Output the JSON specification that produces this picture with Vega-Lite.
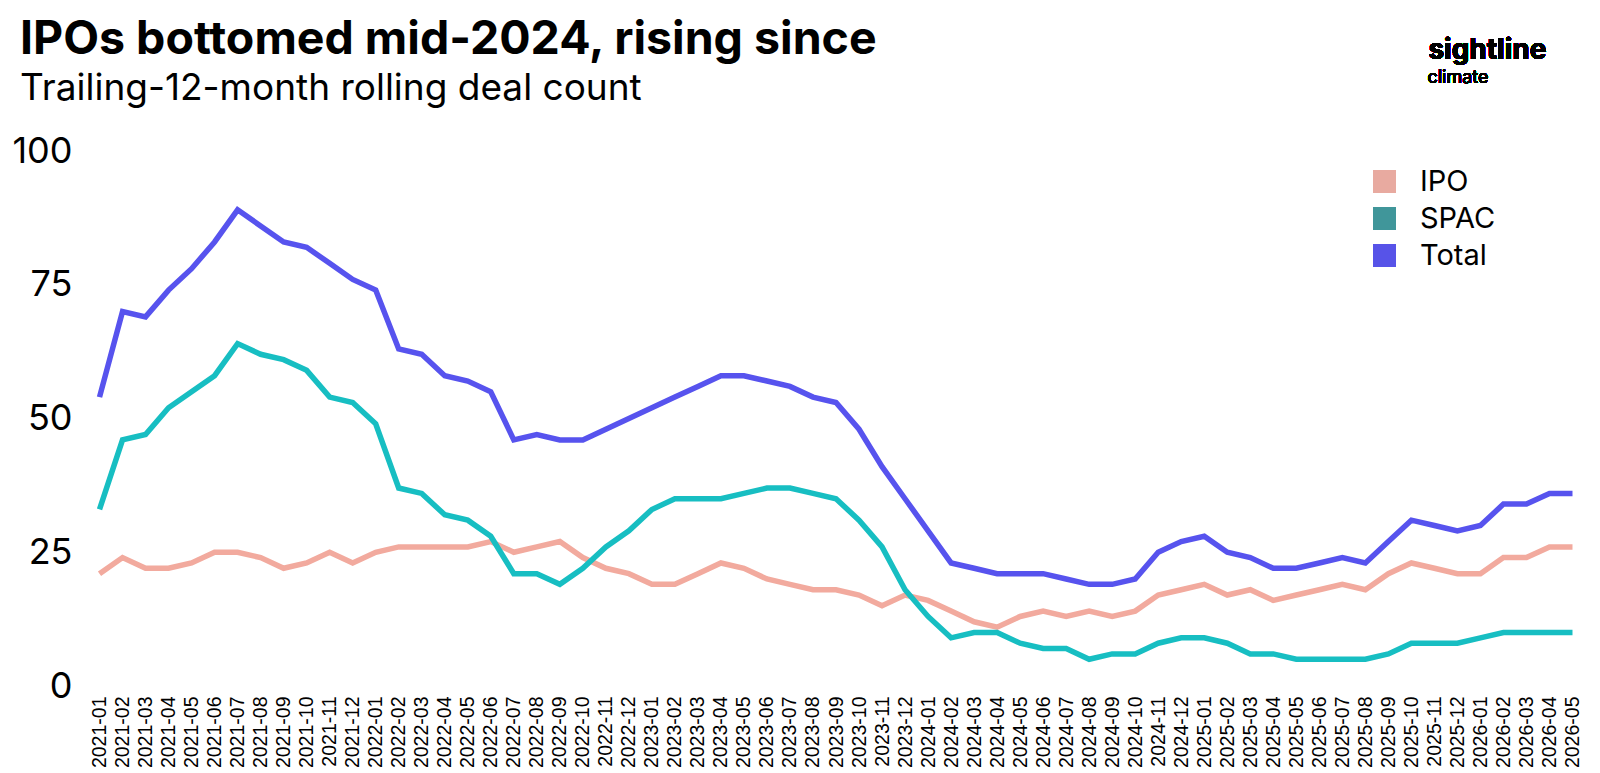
{
  "$schema": "https://vega.github.io/schema/vega-lite/v6.json",
  "autosize": {"type": "none"},
  "width": 1496,
  "height": 535,
  "padding": {"left": 88, "top": 151, "right": 16, "bottom": 87},
  "background": "#ffffff",
  "config": {"font": "Inter", "view": {"stroke": null}},
  "title": {
    "text": "IPOs bottomed mid-2024, rising since",
    "subtitle": "Trailing-12-month rolling deal count",
    "anchor": "start",
    "frame": "group",
    "dx": -68,
    "offset": -70,
    "font": "Inter",
    "fontSize": 46.5,
    "fontWeight": "bold",
    "color": "#000000",
    "subtitleFont": "Inter",
    "subtitleFontSize": 37,
    "subtitleColor": "#000000",
    "subtitlePadding": 7
  },
  "data": {
    "values": [
      {"m": "2021-01", "IPO": 21, "SPAC": 33, "Total": 54},
      {"m": "2021-02", "IPO": 24, "SPAC": 46, "Total": 70},
      {"m": "2021-03", "IPO": 22, "SPAC": 47, "Total": 69},
      {"m": "2021-04", "IPO": 22, "SPAC": 52, "Total": 74},
      {"m": "2021-05", "IPO": 23, "SPAC": 55, "Total": 78},
      {"m": "2021-06", "IPO": 25, "SPAC": 58, "Total": 83},
      {"m": "2021-07", "IPO": 25, "SPAC": 64, "Total": 89},
      {"m": "2021-08", "IPO": 24, "SPAC": 62, "Total": 86},
      {"m": "2021-09", "IPO": 22, "SPAC": 61, "Total": 83},
      {"m": "2021-10", "IPO": 23, "SPAC": 59, "Total": 82},
      {"m": "2021-11", "IPO": 25, "SPAC": 54, "Total": 79},
      {"m": "2021-12", "IPO": 23, "SPAC": 53, "Total": 76},
      {"m": "2022-01", "IPO": 25, "SPAC": 49, "Total": 74},
      {"m": "2022-02", "IPO": 26, "SPAC": 37, "Total": 63},
      {"m": "2022-03", "IPO": 26, "SPAC": 36, "Total": 62},
      {"m": "2022-04", "IPO": 26, "SPAC": 32, "Total": 58},
      {"m": "2022-05", "IPO": 26, "SPAC": 31, "Total": 57},
      {"m": "2022-06", "IPO": 27, "SPAC": 28, "Total": 55},
      {"m": "2022-07", "IPO": 25, "SPAC": 21, "Total": 46},
      {"m": "2022-08", "IPO": 26, "SPAC": 21, "Total": 47},
      {"m": "2022-09", "IPO": 27, "SPAC": 19, "Total": 46},
      {"m": "2022-10", "IPO": 24, "SPAC": 22, "Total": 46},
      {"m": "2022-11", "IPO": 22, "SPAC": 26, "Total": 48},
      {"m": "2022-12", "IPO": 21, "SPAC": 29, "Total": 50},
      {"m": "2023-01", "IPO": 19, "SPAC": 33, "Total": 52},
      {"m": "2023-02", "IPO": 19, "SPAC": 35, "Total": 54},
      {"m": "2023-03", "IPO": 21, "SPAC": 35, "Total": 56},
      {"m": "2023-04", "IPO": 23, "SPAC": 35, "Total": 58},
      {"m": "2023-05", "IPO": 22, "SPAC": 36, "Total": 58},
      {"m": "2023-06", "IPO": 20, "SPAC": 37, "Total": 57},
      {"m": "2023-07", "IPO": 19, "SPAC": 37, "Total": 56},
      {"m": "2023-08", "IPO": 18, "SPAC": 36, "Total": 54},
      {"m": "2023-09", "IPO": 18, "SPAC": 35, "Total": 53},
      {"m": "2023-10", "IPO": 17, "SPAC": 31, "Total": 48},
      {"m": "2023-11", "IPO": 15, "SPAC": 26, "Total": 41},
      {"m": "2023-12", "IPO": 17, "SPAC": 18, "Total": 35},
      {"m": "2024-01", "IPO": 16, "SPAC": 13, "Total": 29},
      {"m": "2024-02", "IPO": 14, "SPAC": 9, "Total": 23},
      {"m": "2024-03", "IPO": 12, "SPAC": 10, "Total": 22},
      {"m": "2024-04", "IPO": 11, "SPAC": 10, "Total": 21},
      {"m": "2024-05", "IPO": 13, "SPAC": 8, "Total": 21},
      {"m": "2024-06", "IPO": 14, "SPAC": 7, "Total": 21},
      {"m": "2024-07", "IPO": 13, "SPAC": 7, "Total": 20},
      {"m": "2024-08", "IPO": 14, "SPAC": 5, "Total": 19},
      {"m": "2024-09", "IPO": 13, "SPAC": 6, "Total": 19},
      {"m": "2024-10", "IPO": 14, "SPAC": 6, "Total": 20},
      {"m": "2024-11", "IPO": 17, "SPAC": 8, "Total": 25},
      {"m": "2024-12", "IPO": 18, "SPAC": 9, "Total": 27},
      {"m": "2025-01", "IPO": 19, "SPAC": 9, "Total": 28},
      {"m": "2025-02", "IPO": 17, "SPAC": 8, "Total": 25},
      {"m": "2025-03", "IPO": 18, "SPAC": 6, "Total": 24},
      {"m": "2025-04", "IPO": 16, "SPAC": 6, "Total": 22},
      {"m": "2025-05", "IPO": 17, "SPAC": 5, "Total": 22},
      {"m": "2025-06", "IPO": 18, "SPAC": 5, "Total": 23},
      {"m": "2025-07", "IPO": 19, "SPAC": 5, "Total": 24},
      {"m": "2025-08", "IPO": 18, "SPAC": 5, "Total": 23},
      {"m": "2025-09", "IPO": 21, "SPAC": 6, "Total": 27},
      {"m": "2025-10", "IPO": 23, "SPAC": 8, "Total": 31},
      {"m": "2025-11", "IPO": 22, "SPAC": 8, "Total": 30},
      {"m": "2025-12", "IPO": 21, "SPAC": 8, "Total": 29},
      {"m": "2026-01", "IPO": 21, "SPAC": 9, "Total": 30},
      {"m": "2026-02", "IPO": 24, "SPAC": 10, "Total": 34},
      {"m": "2026-03", "IPO": 24, "SPAC": 10, "Total": 34},
      {"m": "2026-04", "IPO": 26, "SPAC": 10, "Total": 36},
      {"m": "2026-05", "IPO": 26, "SPAC": 10, "Total": 36}
    ]
  },
  "layer": [
    {
      "transform": [{"fold": ["IPO", "SPAC", "Total"], "as": ["series", "value"]}],
      "mark": {"type": "line", "strokeWidth": 5.5},
      "encoding": {
        "x": {
          "field": "m",
          "type": "ordinal",
          "sort": null,
          "scale": {"type": "point", "padding": 0.5},
          "axis": {
            "title": null,
            "labelAngle": -90,
            "labelFont": "Liberation Sans",
            "labelFontSize": 19.5,
            "labelColor": "#000000",
            "labelPadding": 10,
            "ticks": false,
            "tickSize": 0,
            "domain": false,
            "grid": false
          }
        },
        "y": {
          "field": "value",
          "type": "quantitative",
          "scale": {"domain": [0, 100], "nice": false, "zero": true},
          "axis": {
            "title": null,
            "values": [0, 25, 50, 75, 100],
            "labelFont": "Inter",
            "labelFontSize": 36,
            "labelColor": "#000000",
            "labelPadding": 16,
            "ticks": false,
            "tickSize": 0,
            "domain": false,
            "grid": false
          }
        },
        "color": {
          "field": "series",
          "type": "nominal",
          "scale": {"domain": ["IPO", "SPAC", "Total"], "range": ["#F2AA9E", "#17BEC2", "#5753EE"]},
          "legend": {
            "title": null,
            "orient": "none",
            "legendX": 1282,
            "legendY": 16,
            "padding": 0,
            "symbolType": "square",
            "symbolSize": 530,
            "symbolStrokeWidth": 0,
            "labelFont": "Inter",
            "labelFontSize": 29,
            "labelColor": "#000000",
            "labelOffset": 21,
            "rowPadding": 7,
            "encode": {
              "symbols": {
                "update": {
                  "fill": {"signal": "datum.value === 'SPAC' ? '#40969A' : datum.value === 'IPO' ? '#E8AAA0' : '#5753E8'"},
                  "stroke": {"value": "transparent"},
                  "opacity": {"value": 1}
                }
              }
            }
          }
        }
      }
    },
    {
      "mark": {"type": "text", "text": "sightline", "font": "Inter", "fontSize": 28, "fontWeight": "bold", "align": "left", "baseline": "alphabetic", "dx": -6, "color": "#000000"},
      "encoding": {"x": {"datum": "2025-11", "type": "ordinal"}, "y": {"datum": 117.2, "type": "quantitative"}}
    },
    {
      "mark": {"type": "text", "text": "climate", "font": "Inter", "fontSize": 18, "align": "left", "baseline": "alphabetic", "dx": -7, "color": "#000000"},
      "encoding": {"x": {"datum": "2025-11", "type": "ordinal"}, "y": {"datum": 112.8, "type": "quantitative"}}
    }
  ]
}
